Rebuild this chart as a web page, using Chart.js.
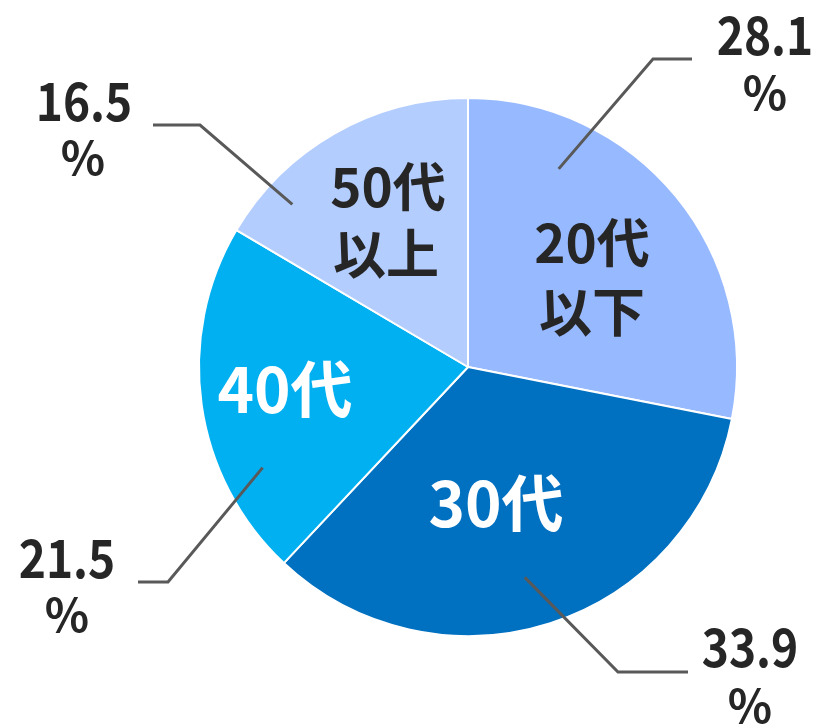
<!DOCTYPE html>
<html>
<head>
<meta charset="utf-8">
<script src="https://cdn.jsdelivr.net/npm/chart.js@4.4.1/dist/chart.umd.min.js"></script>
<style>
  html, body { margin: 0; padding: 0; background: #fff; }
  #wrap { width: 823px; height: 725px; }
</style>
</head>
<body>
<div id="wrap"><canvas id="chart" width="823" height="725"></canvas></div>
<script>
// data
const ageGroups = ["20代以下", "30代", "40代", "50代以上"];
const shares = [28.1, 33.9, 21.5, 16.5];
const sliceColors = ["#97B9FF", "#0070C0", "#00B0F0", "#B4CDFF"];

// inner label lines and text colour for each slice
const innerLines = [["20代", "以下"], ["30代"], ["40代"], ["50代", "以上"]];
const innerColors = ["#262626", "#ffffff", "#ffffff", "#262626"];

// label layout, offsets from pie centre (px); leader start given as angle (deg from top) + radius ratio
const calloutLayout = [
    { startAng: 24.6, startR: 0.81, elbow: [185, -308], end: [224, -308], text: [297, -332], pct: [297, -274] },
    { startAng: 164.9, startR: 0.81, elbow: [150, 305], end: [220, 305], text: [282, 280], pct: [282, 339] },
    { startAng: 243.9, startR: 0.85, elbow: [-300, 215], end: [-330, 215], text: [-401, 191], pct: [-401, 248] },
    { startAng: 312.8, startR: 0.89, elbow: [-268, -242], end: [-315, -242], text: [-384, -266], pct: [-385, -209] }
];
const innerLayout = [
    { pos: [[124, -124], [124, -55]], size: 53 },
    { pos: [[28, 136]], size: 62 },
    { pos: [[-183, 22]], size: 62 },
    { pos: [[-80, -180], [-82, -113]], size: 53 }
];

const fontFamily = '"Noto Sans CJK JP", "Noto Sans", sans-serif';

const labelPlugin = {
    id: 'pieLabels',
    afterDatasetsDraw(chart) {
        const ctx = chart.ctx;
        const arcs = chart.getDatasetMeta(0).data;
        if (!arcs.length) return;
        const cx = arcs[0].x;
        const cy = arcs[0].y;
        const R = arcs[0].outerRadius;
        ctx.save();
        ctx.textAlign = 'center';
        ctx.textBaseline = 'middle';

        // slice names inside
        for (let i = 0; i < arcs.length; i++) {
            const lay = innerLayout[i];
            ctx.fillStyle = innerColors[i];
            ctx.font = 'bold ' + lay.size + 'px ' + fontFamily;
            innerLines[i].forEach((line, k) => {
                ctx.fillText(line, cx + lay.pos[k][0], cy + lay.pos[k][1]);
            });
        }

        // leader lines + values
        for (let i = 0; i < arcs.length; i++) {
            const lay = calloutLayout[i];
            const a = lay.startAng * Math.PI / 180;
            const sx = cx + Math.sin(a) * R * lay.startR;
            const sy = cy - Math.cos(a) * R * lay.startR;
            ctx.strokeStyle = '#595959';
            ctx.lineWidth = 3;
            ctx.beginPath();
            ctx.moveTo(sx, sy);
            ctx.lineTo(cx + lay.elbow[0], cy + lay.elbow[1]);
            ctx.lineTo(cx + lay.end[0], cy + lay.end[1]);
            ctx.stroke();

            ctx.fillStyle = '#262626';
            // numbers in the picture are a bit narrower than this font
            ctx.save();
            ctx.translate(cx + lay.text[0], cy + lay.text[1]);
            ctx.scale(0.87, 1);
            ctx.font = 'bold 53px ' + fontFamily;
            ctx.fillText(shares[i].toFixed(1), 0, 0);
            ctx.restore();
            ctx.font = 'bold 46px ' + fontFamily;
            ctx.fillText('%', cx + lay.pct[0], cy + lay.pct[1]);
        }
        ctx.restore();
    }
};

new Chart('chart', {
    type: 'pie',
    data: {
        labels: ageGroups,
        datasets: [{
            data: shares,
            backgroundColor: sliceColors,
            borderColor: '#ffffff',
            borderWidth: 2
        }]
    },
    options: {
        responsive: false,
        animation: false,
        layout: { padding: { left: 198, right: 85, top: 97, bottom: 88 } },
        plugins: {
            legend: { display: false },
            tooltip: { enabled: false }
        }
    },
    plugins: [labelPlugin]
});
</script>
</body>
</html>
